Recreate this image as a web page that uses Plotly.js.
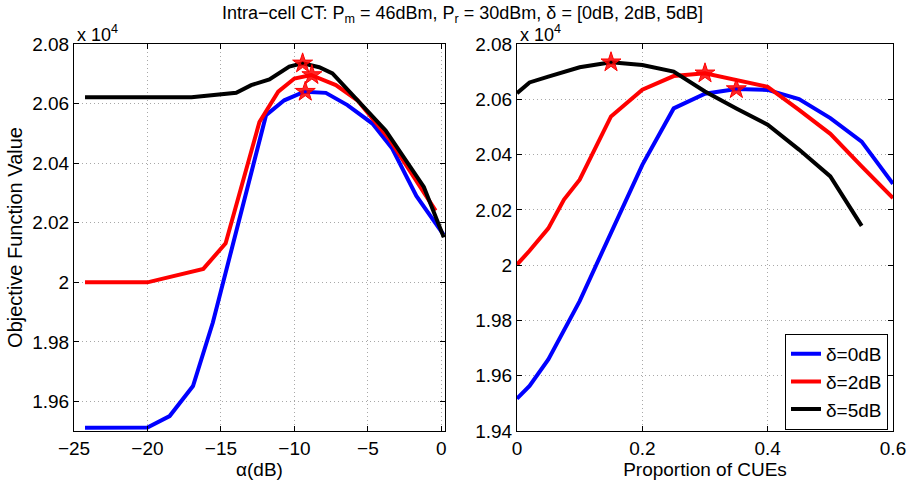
<!DOCTYPE html>
<html>
<head>
<meta charset="utf-8">
<script src="https://cdn.plot.ly/plotly-3.0.1.min.js"></script>
<style>html,body{margin:0;padding:0;background:#fff;}#chart{width:910px;height:481px;}</style>
</head>
<body>
<div id="chart"></div>
<script>
// Values are in units of 10^4 (as shown on the axes)
const seriesNames = ['δ=0dB', 'δ=2dB', 'δ=5dB'];

// Left panel: objective vs alpha (dB)
const alphaBlue = [-24.25, -20, -18.49, -16.9, -15.55, -11.93, -10.69, -9.33, -7.86, -6.39, -4.69, -3.34, -1.7, 0.15];
const objBlueAlpha = [1.9512, 1.9513, 1.9551, 1.9652, 1.9865, 2.0561, 2.0611, 2.0640, 2.0636, 2.0595, 2.0533, 2.0449, 2.0290, 2.0160];
const alphaRed = [-24.25, -20, -16.2, -14.68, -12.38, -11.1, -10.0, -8.87, -7.18, -5.71, -3.56, -1.75, -0.39];
const objRedAlpha = [2.0000, 2.0000, 2.0045, 2.0131, 2.0538, 2.0640, 2.0684, 2.0696, 2.0662, 2.0611, 2.0482, 2.0342, 2.0241];
const alphaBlack = [-24.25, -20, -17.0, -13.96, -12.94, -11.7, -10.35, -9.44, -8.31, -7.41, -3.79, -1.19, 0.17];
const objBlackAlpha = [2.0621, 2.0621, 2.0621, 2.0636, 2.0662, 2.0681, 2.0724, 2.0735, 2.0722, 2.0701, 2.0510, 2.0320, 2.0151];
const alphaMax = [-9.26, -8.81, -9.44];
const objMaxAlpha = [2.0640, 2.0696, 2.0735];

// Right panel: objective vs proportion of CUEs
const propBlue = [0, 0.02, 0.05, 0.1, 0.15, 0.2, 0.25, 0.3, 0.35, 0.4, 0.45, 0.5, 0.55, 0.6];
const objBlueProp = [1.9517, 1.9563, 1.9659, 1.9870, 2.0117, 2.0363, 2.0567, 2.0620, 2.0637, 2.0634, 2.0601, 2.0532, 2.0447, 2.0294];
const propRed = [0, 0.02, 0.05, 0.075, 0.1, 0.15, 0.2, 0.25, 0.3, 0.35, 0.4, 0.45, 0.5, 0.55, 0.6];
const objRedProp = [2.0002, 2.0052, 2.0133, 2.0237, 2.0309, 2.0538, 2.0635, 2.0684, 2.0694, 2.0670, 2.0645, 2.0562, 2.0475, 2.0357, 2.0243];
const propBlack = [0, 0.02, 0.05, 0.1, 0.15, 0.2, 0.25, 0.3, 0.35, 0.4, 0.45, 0.5, 0.55];
const objBlackProp = [2.0622, 2.0661, 2.0682, 2.0716, 2.0734, 2.0724, 2.0700, 2.0628, 2.0567, 2.0508, 2.0418, 2.0321, 2.0142];
const propMax = [0.35, 0.3, 0.15];
const objMaxProp = [2.0637, 2.0694, 2.0734];

const xTicksLeft = [-25, -20, -15, -10, -5, 0];
const xTicksRight = [0, 0.2, 0.4, 0.6];
const xTickTextRight = ['0', '0.2', '0.4', '0.6'];
const yTicksLeft = [1.96, 1.98, 2.00, 2.02, 2.04, 2.06, 2.08];
const yTickTextLeft = ['1.96', '1.98', '2', '2.02', '2.04', '2.06', '2.08'];
const yTicksRight = [1.94, 1.96, 1.98, 2.00, 2.02, 2.04, 2.06, 2.08];
const yTickTextRight = ['1.94', '1.96', '1.98', '2', '2.02', '2.04', '2.06', '2.08'];

const colors = ['#0000ff', '#ff0000', '#000000'];
const FONT = 'Liberation Sans, Arial, Helvetica, sans-serif';

const leftX = [alphaBlue, alphaRed, alphaBlack];
const leftY = [objBlueAlpha, objRedAlpha, objBlackAlpha];
const rightX = [propBlue, propRed, propBlack];
const rightY = [objBlueProp, objRedProp, objBlackProp];

const traces = [];
for (let i = 0; i < 3; i++) {
  traces.push({x: leftX[i], y: leftY[i], xaxis: 'x', yaxis: 'y', mode: 'lines',
    line: {color: colors[i], width: 4}, name: seriesNames[i], showlegend: false, hoverinfo: 'skip'});
}
for (let i = 0; i < 3; i++) {
  traces.push({x: rightX[i], y: rightY[i], xaxis: 'x2', yaxis: 'y2', mode: 'lines',
    line: {color: colors[i], width: 4}, name: seriesNames[i], showlegend: true});
}
traces.push({x: alphaMax, y: objMaxAlpha, xaxis: 'x', yaxis: 'y', mode: 'markers', showlegend: false,
  marker: {symbol: 'star', size: 15, color: 'rgba(255,0,0,0.85)', line: {color: '#ff0000', width: 1}}});
traces.push({x: propMax, y: objMaxProp, xaxis: 'x2', yaxis: 'y2', mode: 'markers', showlegend: false,
  marker: {symbol: 'star', size: 15, color: 'rgba(255,0,0,0.85)', line: {color: '#ff0000', width: 1}}});
traces.push({x: alphaMax, y: objMaxAlpha, xaxis: 'x', yaxis: 'y', mode: 'markers', showlegend: false,
  marker: {symbol: 'circle', size: 3, color: colors}});
traces.push({x: propMax, y: objMaxProp, xaxis: 'x2', yaxis: 'y2', mode: 'markers', showlegend: false,
  marker: {symbol: 'circle', size: 3, color: colors}});

const axisCommon = {
  showline: true, linecolor: '#000', linewidth: 1, mirror: 'ticks',
  ticks: 'inside', ticklen: 5, tickcolor: '#000', tickwidth: 1,
  showgrid: true, gridcolor: '#a8a8a8', griddash: '1px,3px', gridwidth: 1,
  zeroline: false, automargin: false,
  tickfont: {family: FONT, size: 19, color: '#000'}
};

const W = 910, H = 481;
const mL = 74, mR = 17, mT = 44, mB = 50;
const pw = W - mL - mR;

const layout = {
  width: W, height: H,
  margin: {l: mL, r: mR, t: mT, b: mB, pad: 0},
  paper_bgcolor: '#fff', plot_bgcolor: '#fff',
  font: {family: FONT, color: '#000'},
  showlegend: true,
  legend: {x: (888 - mL) / pw, y: 0.003, xanchor: 'right', yanchor: 'bottom',
    bgcolor: '#fff', bordercolor: '#000', borderwidth: 1,
    font: {family: FONT, size: 19, color: '#000'}, itemwidth: 30, tracegroupgap: 0},
  xaxis: Object.assign({}, axisCommon, {domain: [0, (445 - mL) / pw], range: [-25, 0.25],
    tickvals: xTicksLeft, anchor: 'y',
    title: {text: 'α(dB)', font: {family: FONT, size: 19, color: '#000'}, standoff: 4}}),
  yaxis: Object.assign({}, axisCommon, {domain: [0, 1], range: [1.9501, 2.08],
    tickvals: yTicksLeft, ticktext: yTickTextLeft, anchor: 'x',
    title: {text: 'Objective Function Value', font: {family: FONT, size: 20, color: '#000'}, standoff: 4}}),
  xaxis2: Object.assign({}, axisCommon, {domain: [(517 - mL) / pw, 1], range: [0, 0.6],
    tickvals: xTicksRight, ticktext: xTickTextRight, anchor: 'y2',
    title: {text: 'Proportion of CUEs', font: {family: FONT, size: 19, color: '#000'}, standoff: 4}}),
  yaxis2: Object.assign({}, axisCommon, {domain: [0, 1], range: [1.94, 2.08],
    tickvals: yTicksRight, ticktext: yTickTextRight, anchor: 'x2'}),
  annotations: [
    {text: 'Intra−cell CT: P<sub>m</sub> = 46dBm, P<sub>r</sub> = 30dBm, δ = [0dB, 2dB, 5dB]',
     xref: 'paper', yref: 'paper', x: (462 - mL) / pw, y: 1 + (44 - 15) / (H - mT - mB),
     xanchor: 'center', yanchor: 'middle', showarrow: false,
     font: {family: FONT, size: 18, color: '#000'}},
    {text: 'x 10<sup>4</sup>', xref: 'paper', yref: 'paper', x: 0, y: 1,
     xanchor: 'left', yanchor: 'bottom', showarrow: false, xshift: 1, yshift: -3,
     font: {family: FONT, size: 18, color: '#000'}},
    {text: 'x 10<sup>4</sup>', xref: 'paper', yref: 'paper', x: (517 - mL) / pw, y: 1,
     xanchor: 'left', yanchor: 'bottom', showarrow: false, xshift: 1, yshift: -3,
     font: {family: FONT, size: 18, color: '#000'}}
  ]
};

Plotly.newPlot('chart', traces, layout, {displayModeBar: false, staticPlot: true});
</script>
</body>
</html>
